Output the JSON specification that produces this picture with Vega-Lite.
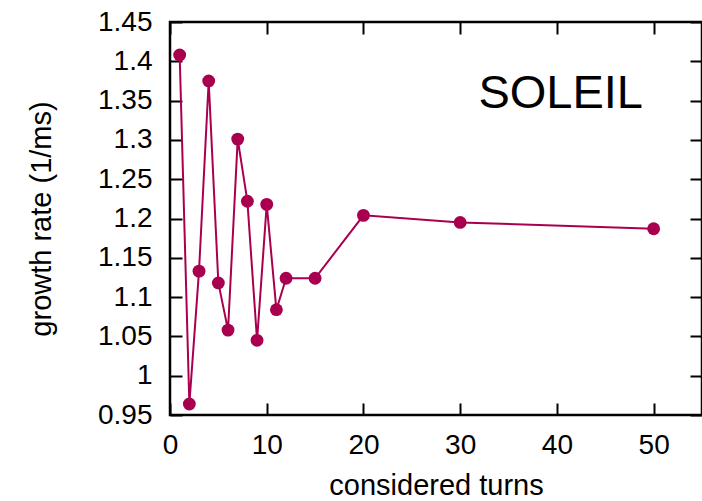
{
  "$schema": "https://vega.github.io/schema/vega-lite/v6.json",
  "width": 532,
  "height": 393,
  "autosize": "none",
  "padding": {"left": 170, "top": 22, "right": 0, "bottom": 86},
  "background": "white",
  "config": {
    "view": {"stroke": "black", "strokeWidth": 2.5},
    "font": "Liberation Sans",
    "axis": {
      "grid": false,
      "domain": false,
      "tickColor": "black",
      "tickWidth": 2,
      "tickSize": -12,
      "labelFont": "Liberation Sans",
      "labelFontSize": 28,
      "labelColor": "black",
      "titleFont": "Liberation Sans",
      "titleFontSize": 29,
      "titleFontWeight": "normal",
      "titleColor": "black"
    }
  },
  "datasets": {
    "pts": [
      {"turns": 1, "rate": 1.408},
      {"turns": 2, "rate": 0.964},
      {"turns": 3, "rate": 1.133},
      {"turns": 4, "rate": 1.375},
      {"turns": 5, "rate": 1.118},
      {"turns": 6, "rate": 1.058},
      {"turns": 7, "rate": 1.301},
      {"turns": 8, "rate": 1.222},
      {"turns": 9, "rate": 1.045},
      {"turns": 10, "rate": 1.218},
      {"turns": 11, "rate": 1.084},
      {"turns": 12, "rate": 1.124},
      {"turns": 15, "rate": 1.124},
      {"turns": 20, "rate": 1.204},
      {"turns": 30, "rate": 1.195},
      {"turns": 50, "rate": 1.187}
    ],
    "lab": [
      {"turns": 48.9, "rate": 1.341, "label": "SOLEIL"}
    ]
  },
  "resolve": {"axis": {"x": "independent", "y": "independent"}},
  "layer": [
    {
      "data": {"name": "pts"},
      "mark": {"type": "line", "color": "#a8004f", "strokeWidth": 2, "point": {"filled": true, "size": 165, "color": "#a8004f", "opacity": 1}},
      "encoding": {
        "x": {
          "field": "turns", "type": "quantitative",
          "scale": {"domain": [0, 55], "nice": false, "zero": false},
          "axis": {"orient": "bottom", "values": [0, 10, 20, 30, 40, 50], "labelPadding": 28, "labelFlush": false, "title": "considered turns", "titlePadding": 12}
        },
        "y": {
          "field": "rate", "type": "quantitative",
          "scale": {"domain": [0.95, 1.45], "nice": false, "zero": false},
          "axis": {"orient": "left", "values": [0.95, 1.0, 1.05, 1.1, 1.15, 1.2, 1.25, 1.3, 1.35, 1.4, 1.45], "format": ".2~f", "labelPadding": 30, "labelFlush": false, "title": "growth rate (1/ms)", "titlePadding": 41}
        }
      }
    },
    {
      "data": {"name": "lab"},
      "mark": {"type": "text", "align": "right", "baseline": "alphabetic", "fontSize": 47, "font": "Liberation Sans", "color": "black"},
      "encoding": {
        "x": {
          "field": "turns", "type": "quantitative",
          "scale": {"domain": [0, 55], "nice": false, "zero": false},
          "axis": {"orient": "top", "values": [0, 10, 20, 30, 40, 50], "labels": false, "title": null}
        },
        "y": {
          "field": "rate", "type": "quantitative",
          "scale": {"domain": [0.95, 1.45], "nice": false, "zero": false},
          "axis": {"orient": "right", "values": [0.95, 1.0, 1.05, 1.1, 1.15, 1.2, 1.25, 1.3, 1.35, 1.4, 1.45], "labels": false, "title": null}
        },
        "text": {"field": "label"}
      }
    }
  ]
}
